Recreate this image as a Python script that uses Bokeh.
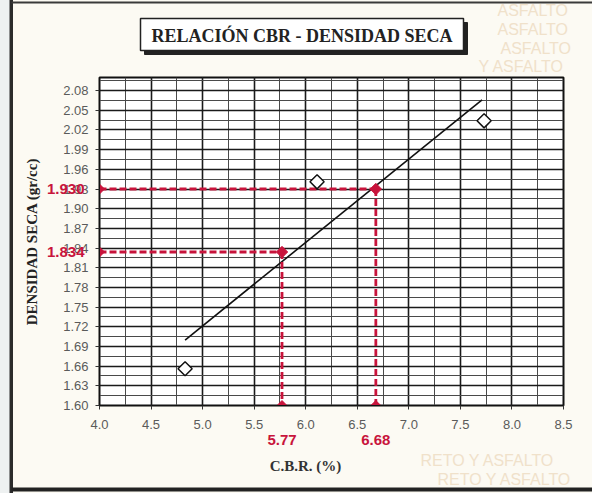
from bokeh.plotting import figure
from bokeh.models import Range1d, FixedTicker, LinearAxis, Column
from bokeh.core.properties import value
from bokeh.embed import file_html
from bokeh.resources import INLINE
import numpy as np

# ---------------- data ----------------
cbr = [4.83, 6.11, 7.73]            # C.B.R. (%)
dens = [1.656, 1.941, 2.034]        # dry density (gr/cc)
read_cbr = [5.77, 6.68]             # CBR read at the design densities
read_dens = [1.834, 1.930]          # design densities
read_cbr_labels = ["5.77", "6.68"]
read_dens_labels = ["1.834", "1.930"]
x_ticks = [4.0, 4.5, 5.0, 5.5, 6.0, 6.5, 7.0, 7.5, 8.0, 8.5]
y_ticks = [1.60, 1.63, 1.66, 1.69, 1.72, 1.75, 1.78, 1.81, 1.84, 1.87,
           1.90, 1.93, 1.96, 1.99, 2.02, 2.05, 2.08]
title_text = "RELACIÓN CBR - DENSIDAD SECA"
xlabel_text = "C.B.R. (%)"
ylabel_text = "DENSIDAD SECA (gr/cc)"
wm_top = ["ASFALTO", "ASFALTO", "ASFALTO", "Y ASFALTO"]
wm_bottom = ["RETO Y ASFALTO", "RETO Y ASFALTO"]

X0, X1 = 4.0, 8.5
Y0, Y1 = 1.60, 2.10

RED = "#c8143c"
SERIF = "Liberation Serif"
SANS = "Liberation Sans"
WM = "#f0e1ca"

W = 592
H_TOP, H_MAIN, H_BOT = 75, 377, 41

page_bg = ("linear-gradient(to right, #eef1f1 0px, #eef1f1 9px, #2b2b2b 10px, "
           "#2b2b2b 13px, #fcfaf3 13px, #fcfaf3 100%)")


def blank(h):
    f = figure(width=W, height=h, output_backend="svg", toolbar_location=None,
               x_range=Range1d(0, W), y_range=Range1d(h, 0),
               x_axis_location=None, y_axis_location=None, min_border=0)
    f.frame_align = False
    f.xgrid.visible = False
    f.ygrid.visible = False
    f.outline_line_color = None
    f.background_fill_alpha = 0
    f.border_fill_alpha = 0
    return f


# ---------------- top: title box ----------------
top = blank(H_TOP)
top.text(x=[497, 497, 500, 478], y=[10, 29, 48, 66], text=wm_top,
         text_font=value(SANS), text_font_size="16px", text_color=WM,
         text_baseline="middle")
top.segment(x0=[11], y0=[2], x1=[W], y1=[2], line_color="#3a3a3a", line_width=2)
top.quad(left=[144], right=[467], top=[22], bottom=[54], fill_color="#222222", line_color="#222222")
top.quad(left=[140], right=[463], top=[18], bottom=[50], fill_color="#ffffff",
         line_color="#222222", line_width=1.5)
top.text(x=[301.5], y=[35], text=[title_text], text_font=value(SERIF),
         text_font_size="18px", text_font_style="bold", text_color="#222222",
         text_align="center", text_baseline="middle")

# ---------------- main chart ----------------
p = figure(width=W, height=H_MAIN, output_backend="svg", toolbar_location=None,
           x_range=Range1d(X0, X1), y_range=Range1d(Y0, Y1),
           min_border_left=99, min_border_right=29,
           min_border_top=2, min_border_bottom=47)
p.frame_align = False
p.background_fill_color = "#ffffff"
p.border_fill_alpha = 0
p.outline_line_color = "#111111"
p.outline_line_width = 2

xt = FixedTicker(ticks=x_ticks, minor_ticks=list(np.round(np.arange(X0, X1 + 0.001, 0.25), 2)))
yt = FixedTicker(ticks=y_ticks, minor_ticks=list(np.round(np.arange(Y0, Y1 + 0.001, 0.015), 3)))
p.xaxis.ticker = xt
p.yaxis.ticker = yt
p.xgrid.ticker = xt
p.ygrid.ticker = yt
for g in (p.xgrid, p.ygrid):
    g.grid_line_color = "#1a1a1a"
    g.grid_line_width = 1.6
    g.minor_grid_line_color = "#4a4a4a"
    g.minor_grid_line_width = 1

p.xaxis.major_label_overrides = {t: f"{t:.1f}" for t in x_ticks}
p.yaxis.major_label_overrides = {t: f"{t:.2f}" for t in y_ticks}
for ax in (p.xaxis, p.yaxis):
    ax.axis_line_color = "#111111"
    ax.axis_line_width = 1
    ax.major_tick_in = 0
    ax.major_tick_out = 4
    ax.major_tick_line_color = "#333333"
    ax.minor_tick_line_color = None
    ax.major_label_text_font = SANS
    ax.major_label_text_font_size = "13px"
    ax.major_label_text_color = "#5a5a5a"
p.xaxis.major_label_standoff = 10
p.yaxis.major_label_standoff = 7

# red value axes (labels only)
ry = LinearAxis(ticker=FixedTicker(ticks=read_dens),
                major_label_overrides=dict(zip(read_dens, read_dens_labels)))
rx = LinearAxis(ticker=FixedTicker(ticks=read_cbr),
                major_label_overrides=dict(zip(read_cbr, read_cbr_labels)))
for ax in (ry, rx):
    ax.axis_line_color = None
    ax.major_tick_line_color = None
    ax.minor_tick_line_color = None
    ax.major_tick_in = 0
    ax.major_tick_out = 0
    ax.major_label_text_font = SANS
    ax.major_label_text_font_size = "15px"
    ax.major_label_text_font_style = "bold"
    ax.major_label_text_color = RED
ry.major_label_standoff = -24
rx.major_label_standoff = 3
ry.axis_label = ylabel_text
ry.axis_label_text_font = SERIF
ry.axis_label_text_font_size = "15px"
ry.axis_label_text_font_style = "bold"
ry.axis_label_text_color = "#222222"
ry.axis_label_standoff = 4
p.add_layout(ry, "left")
p.add_layout(rx, "below")

# trend line (least squares through the three points)
a, b = np.polyfit(cbr, dens, 1)
fx = np.array([cbr[0], 7.71])
p.line(fx, a * fx + b, line_color="#111111", line_width=1.6)

# red read-off lines and markers
for xv, yv in zip(read_cbr, read_dens):
    p.line([X0, xv], [yv, yv], line_color=RED, line_width=2.8, line_dash="7 3")
    p.line([xv, xv], [yv, Y0], line_color=RED, line_width=2.8, line_dash="7 3")
p.scatter(read_cbr, read_dens, marker="square", angle=np.pi / 4, size=8,
          fill_color=RED, line_color=RED)
p.scatter([X0] * len(read_dens), read_dens, marker="square", angle=np.pi / 4, size=7,
          fill_color=RED, line_color=RED)
p.scatter(read_cbr, [Y0] * len(read_cbr), marker="square", angle=np.pi / 4, size=7,
          fill_color=RED, line_color=RED)

# data points
p.scatter(cbr, dens, marker="square", angle=np.pi / 4, size=10, fill_color="white",
          line_color="#111111", line_width=1.5)

# ---------------- bottom: x-axis title ----------------
bot = blank(H_BOT)
bot.text(x=[420, 437], y=[8, 27], text=wm_bottom, text_font=value(SANS),
         text_font_size="16px", text_color=WM, text_baseline="middle")
bot.text(x=[305], y=[13], text=[xlabel_text], text_font=value(SERIF),
         text_font_size="15px", text_font_style="bold", text_color="#333333",
         text_align="center", text_baseline="middle")
bot.segment(x0=[11], y0=[37], x1=[W], y1=[37], line_color="#222222", line_width=4)

layout = Column(children=[top, p, bot], spacing=0, styles={"background": page_bg})

open("out.html", "w").write(file_html(layout, INLINE))
